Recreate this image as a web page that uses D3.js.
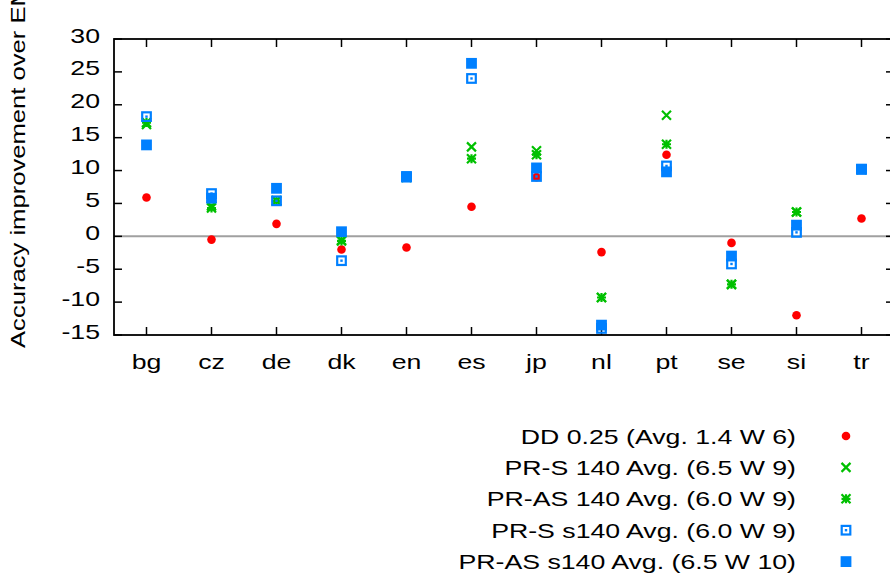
<!DOCTYPE html>
<html>
<head>
<meta charset="utf-8">
<script src="https://cdn.jsdelivr.net/npm/d3@7"></script>
<style>
  body { margin: 0; background: #fff; }
  text { font-family: "Liberation Sans", Arial, sans-serif; fill: #000; }
</style>
</head>
<body>
<div id="chart"></div>
<script>
var figw = 890
var figh = 576

// categories and series
var langs = ['bg','cz','de','dk','en','es','jp','nl','pt','se','si','tr']
var yticks = [30, 25, 20, 15, 10, 5, 0, -5, -10, -15]
var dd      = [5.9, -0.5, 1.9, -2.0, -1.7, 4.5, 9.0, -2.4, 12.4, -1.0, -12.0, 2.7]
var prs140  = [17.0, 4.6, 5.4, -0.6, 9.0, 13.6, 13.0, -9.3, 18.4, -7.3, 3.7, 10.2]
var pras140 = [17.3, 4.3, 5.4, -0.7, 9.0, 11.8, 12.4, -9.3, 14.0, -7.3, 3.7, 10.2]
var prss140 = [18.2, 6.5, 5.4, -3.7, 9.0, 24.0, 9.1, -14.0, 10.7, -4.2, 0.6, 10.2]
var prass140 = [13.9, 5.8, 7.3, 0.7, 9.1, 26.3, 10.4, -13.5, 9.8, -3.0, 1.7, 10.2]
var seriesNames = [
  'DD 0.25 (Avg. 1.4 W 6)',
  'PR-S 140 Avg. (6.5 W 9)',
  'PR-AS 140 Avg. (6.0 W 9)',
  'PR-S s140 Avg. (6.0 W 9)',
  'PR-AS s140 Avg. (6.5 W 10)'
]

var red = '#ff0000', green = '#00c000', blue = '#0080ff'
var fs = 21, stretch = 1.27   // gnuplot's font comes out wide

var margin = {top: 39, left: 114},
    width = 780,
    height = 296;

var svg = d3.select('#chart')
  .append('svg')
    .attr('width', figw)
    .attr('height', figh)

var g = svg.append('g')
    .attr('transform', 'translate(' + margin.left + ',' + margin.top + ')')

var x = d3.scaleLinear().domain([-0.5, 11.5]).range([0, width])
var y = d3.scaleLinear().domain([-15, 30]).range([height, 0])

function label(sel, tx, ty, anchor, str, rot, sx) {
  return sel.append('text')
    .attr('transform', 'translate(' + tx + ',' + ty + ')' + (rot ? ' rotate(' + rot + ')' : '') +
          ' scale(' + (sx || stretch) + ',1)')
    .attr('text-anchor', anchor)
    .attr('font-size', fs)
    .text(str)
}

// zero line
g.append('line')
  .attr('x1', 0).attr('x2', width)
  .attr('y1', y(0)).attr('y2', y(0))
  .attr('stroke', '#a0a0a0').attr('stroke-width', 2)

// ticks (inward, mirrored)
var tlen = 8
yticks.forEach(function(t) {
  g.append('line').attr('x1', 0).attr('x2', tlen).attr('y1', y(t)).attr('y2', y(t))
    .attr('stroke', '#000').attr('stroke-width', 1.5)
  g.append('line').attr('x1', width - tlen).attr('x2', width).attr('y1', y(t)).attr('y2', y(t))
    .attr('stroke', '#000').attr('stroke-width', 1.5)
  label(g, -14, y(t) + 3.5, 'end', t)
})
langs.forEach(function(l, i) {
  g.append('line').attr('x1', x(i)).attr('x2', x(i)).attr('y1', height).attr('y2', height - tlen)
    .attr('stroke', '#000').attr('stroke-width', 1.5)
  g.append('line').attr('x1', x(i)).attr('x2', x(i)).attr('y1', 0).attr('y2', tlen)
    .attr('stroke', '#000').attr('stroke-width', 1.5)
  label(g, x(i), height + 34, 'middle', l)
})

// frame
g.append('rect')
  .attr('x', 0).attr('y', 0).attr('width', width).attr('height', height)
  .attr('fill', 'none').attr('stroke', '#000').attr('stroke-width', 1.8)

// y label (runs off the top edge in the original too)
label(svg, 25, 348, 'start', 'Accuracy improvement over EM', -90, 1.22)

// marker drawing
function drawMarker(sel, kind, cx, cy) {
  if (kind === 0) {
    sel.append('circle').attr('cx', cx).attr('cy', cy).attr('r', 4.3).attr('fill', red)
  } else if (kind === 1 || kind === 2) {
    var s = 4.5
    var p = 'M' + (cx - s) + ',' + (cy - s) + 'L' + (cx + s) + ',' + (cy + s) +
            'M' + (cx - s) + ',' + (cy + s) + 'L' + (cx + s) + ',' + (cy - s)
    if (kind === 2) {
      p += 'M' + (cx - s) + ',' + cy + 'L' + (cx + s) + ',' + cy +
           'M' + cx + ',' + (cy - s) + 'L' + cx + ',' + (cy + s)
    }
    sel.append('path').attr('d', p).attr('stroke', green).attr('stroke-width', 2.2).attr('fill', 'none')
  } else if (kind === 3) {
    sel.append('rect').attr('x', cx - 4.3).attr('y', cy - 4.3).attr('width', 8.6).attr('height', 8.6)
      .attr('fill', 'none').attr('stroke', blue).attr('stroke-width', 2.2)
    sel.append('rect').attr('x', cx - 1.2).attr('y', cy - 1.2).attr('width', 2.4).attr('height', 2.4)
      .attr('fill', blue)
  } else {
    sel.append('rect').attr('x', cx - 5.4).attr('y', cy - 5.4).attr('width', 10.8).attr('height', 10.8)
      .attr('fill', blue)
  }
}

var allSeries = [dd, prs140, pras140, prss140, prass140]
allSeries.forEach(function(vals, k) {
  var sg = g.append('g')
  vals.forEach(function(v, i) {
    drawMarker(sg, k, x(i), y(v))
  })
})

// legend
var legend = svg.append('g')
seriesNames.forEach(function(name, k) {
  var ly = 436 + k * 31.4
  label(legend, 796, ly + 7.5, 'end', name)
  drawMarker(legend, k, 846, ly)
})
</script>
</body>
</html>
